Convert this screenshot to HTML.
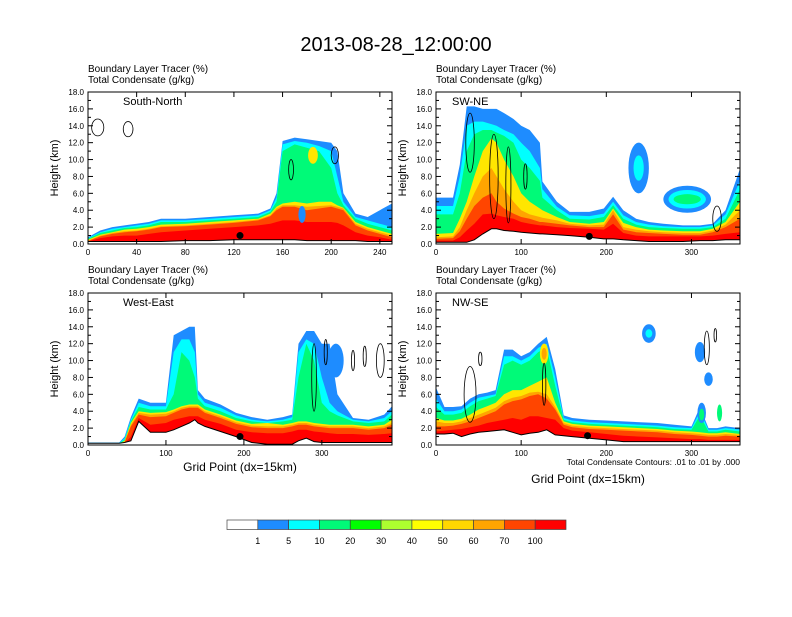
<!DOCTYPE html>
<html><head><meta charset="utf-8"><style>
body{margin:0;background:#fff}
svg text{font-family:"Liberation Sans",sans-serif}
</style></head><body>
<svg id="root" width="792" height="612" xmlns="http://www.w3.org/2000/svg">
<text x="396" y="51" font-size="20" text-anchor="middle">2013-08-28_12:00:00</text>
<g id="panels"></g>
<g id="cbar"></g>
</svg>
<script>
const NS="http://www.w3.org/2000/svg";
const levelColors=["#1E8CFF","#00FFFF","#00FA78","#FFE600","#FFA500","#FF4500","#FF0000"];
const cbColors=["#ffffff","#1E8CFF","#00FFFF","#00FA78","#00FF00","#ADFF2F","#FFFF00","#FFD700","#FFA500","#FF4500","#FF0000"];
const cbLabels=["1","5","10","20","30","40","50","60","70","100"];

const tlXs=[0,10,20,30,40,50,60,80,100,120,140,150,155,160,170,180,190,200,205,210,220,230,240,250];
const tlLevels=[
[0.8,1.6,2.0,2.2,2.4,2.6,3.0,3.0,3.2,3.4,3.6,4.2,6,12.2,12.6,12.4,12.2,12.0,11,6,3.6,3.2,4.0,4.8],
[0.7,1.4,1.8,2.0,2.2,2.4,2.8,2.8,3.0,3.2,3.4,4.0,5.5,11.8,12.2,12.0,11.6,11.0,8,5,3.2,2.8,2.4,2.0],
[0.6,1.3,1.6,1.9,2.0,2.2,2.6,2.6,2.8,3.0,3.2,3.8,5.0,11.0,11.8,11.4,11.0,9.0,6,4.6,3.0,2.4,2.0,1.6],
[0.5,1.1,1.4,1.7,1.8,2.0,2.3,2.4,2.6,2.8,3.0,3.6,4.4,4.8,5.0,4.8,5.0,5.0,4.6,4.3,2.6,2.0,1.6,1.2],
[0.4,1.0,1.3,1.5,1.6,1.8,2.1,2.2,2.4,2.6,2.9,3.4,4.2,4.6,4.6,4.4,4.5,4.6,4.4,4.2,2.4,1.8,1.4,1.0],
[0.35,0.9,1.2,1.4,1.5,1.7,2.0,2.1,2.3,2.5,2.8,3.3,4.0,4.4,4.4,4.0,4.2,4.4,4.2,4.0,2.2,1.6,1.2,0.8],
[0.3,0.7,0.9,1.0,1.0,1.2,1.4,1.6,1.8,2.0,2.2,2.4,2.6,2.8,2.8,2.6,2.6,2.6,2.5,2.2,1.4,1.0,0.8,0.5]];
const tlTerrain=[0.3,0.3,0.3,0.3,0.3,0.3,0.3,0.4,0.4,0.5,0.5,0.5,0.5,0.5,0.5,0.4,0.4,0.4,0.4,0.4,0.4,0.3,0.3,0.3];
const tlBlobs=[[185,10.5,4,1.0,3],[176,3.5,3,1.0,0]];
const tlContours=[[8,13.8,5,1.0],[33,13.6,4,0.9],[167,8.8,2,1.2],[203,10.5,3,1.0]];

const trXs=[0,20,28,36,45,55,65,71,80,91,100,110,122,125,142,157,180,197,208,220,235,250,267,290,310,325,340,357];
const trLevels=[
[5.5,5.5,9.4,16.3,16.3,16,16,16,15.5,14.8,14,13.5,12,7.4,5,3.8,3.8,4.2,5.6,4,3,2.6,2.4,2.2,2.2,2.4,4,8.9],
[4.5,4.5,8,14,14.5,14.5,14.2,14,13.5,13,12,11,9,6.5,4.4,3.4,3.3,3.6,5.0,3.4,2.6,2.3,2.1,2.0,2.0,2.2,3.5,7.5],
[3.5,3.5,6,11,13,13.5,13.5,13.2,12.8,12,10,9,7.5,5.5,4.0,3.0,2.9,3.2,4.6,3.0,2.3,2.0,1.9,1.8,1.8,2.0,3.0,6.5],
[1.2,1.3,3,5,8,11,12.5,12,10,8,6,5,4.2,4.0,3.2,2.6,2.4,2.6,4.2,2.5,2.0,1.7,1.6,1.5,1.5,1.8,2.6,5.0],
[0.8,0.9,2,4,6,8,9,8,6.5,5,4,3.5,3.2,3.1,2.8,2.4,2.2,2.3,4.0,2.0,1.7,1.5,1.4,1.3,1.3,1.6,2.3,4.0],
[0.6,0.7,1.5,3,4.5,5.5,6,5,4.2,3.6,3.2,3.0,2.6,2.6,2.4,2.2,2.0,2.0,3.5,1.7,1.4,1.3,1.2,1.1,1.1,1.4,2.0,3.0],
[0.4,0.4,0.8,1.6,2.4,3.5,3.6,3.4,3.2,3.0,2.6,2.4,2.2,2.2,2.0,1.9,1.8,1.7,2.4,1.3,1.0,0.9,0.9,0.9,0.9,1.0,1.2,1.4]];
const trTerrain=[0.2,0.2,0.2,0.2,0.5,1.2,1.8,1.8,1.6,1.5,1.4,1.3,1.2,1.2,1.1,1.0,0.8,0.6,0.6,0.5,0.4,0.3,0.3,0.3,0.4,0.4,0.5,0.5];
const trBlobs=[[238,9,12,3,0],[238,9,6,1.5,1],[295,5.3,28,1.6,0],[295,5.3,22,1.1,1],[295,5.3,16,0.6,2]];
const trContours=[[40,12,5,3.5],[68,8,5,5],[85,7,3,4.5],[330,3,5,1.5],[105,8,2,1.5]];

const blXs=[0,40,47,55,65,80,100,110,120,130,137,141,150,170,190,210,230,250,262,270,280,290,300,310,320,340,360,380,390];
const blLevels=[
[0.3,0.3,1.0,3.3,5.5,5.0,5.0,13,13.5,14,14,6.5,5.5,4.8,3.8,3.3,3.0,3.3,3.6,12,13.5,13.5,12,12,6,3.2,3.0,3.6,4.6],
[0.25,0.25,0.8,3.0,5.0,4.6,4.6,11,12.5,12.5,11,6,5.0,4.4,3.5,3.0,2.8,3.0,3.3,11,12.5,12,8,5,4,3.0,2.8,3.2,4.0],
[0.2,0.2,0.6,2.8,4.5,4.2,4.2,6,11,10,8,5.5,4.6,4.0,3.2,2.8,2.6,2.8,3.0,8,12,10,5,4,3.5,2.8,2.6,2.8,3.6],
[0.15,0.15,0.5,2.6,4.0,3.8,3.9,4.2,4.6,4.8,4.8,4.8,4.2,3.6,2.9,2.5,2.6,2.4,2.6,2.8,2.8,2.6,2.5,2.4,2.4,2.4,2.2,2.4,3.0],
[0.1,0.1,0.4,2.4,3.8,3.6,3.7,4.0,4.4,4.6,4.6,4.6,4.0,3.4,2.7,2.3,2.2,2.2,2.4,2.6,2.6,2.4,2.3,2.2,2.2,2.2,2.0,2.2,2.6],
[0.1,0.1,0.3,2.2,3.6,3.3,3.4,3.8,4.2,4.4,4.4,4.4,3.8,3.2,2.5,2.1,2.0,2.0,2.2,2.4,2.4,2.2,2.1,2.0,2.0,2.0,1.8,2.0,2.4],
[0.05,0.05,0.2,1.0,3.2,2.4,2.6,3.0,3.2,3.4,3.4,3.4,3.0,2.5,1.8,1.5,1.4,1.4,1.6,1.8,1.8,1.6,1.5,1.4,1.3,1.3,1.2,1.3,1.4]];
const blTerrain=[0.2,0.2,0.3,0.5,2.8,1.5,1.5,1.8,2.2,2.6,3.0,2.6,2.2,1.6,1.0,0.3,0.1,0.1,0.1,0.5,0.8,0.4,0.3,0.3,0.3,0.3,0.3,0.3,0.3];
const blBlobs=[[318,10,10,2,0]];
const blContours=[[290,8,3,4],[305,11,2,1.5],[340,10,2,1.2],[355,10.5,2,1.2],[375,10,5,2]];

const brXs=[0,10,20,30,40,50,60,70,80,90,100,110,120,130,140,150,160,180,200,220,240,260,280,300,310,320,330,340,357];
const brLevels=[
[6.8,4.5,4.5,4.6,5.5,6,6.2,6.5,11.3,11.3,10.5,11,12,12.8,9,3.5,3.2,3,2.9,2.8,2.7,2.6,2.4,2.2,4.5,2.0,2.0,2.2,2.0],
[5.5,4.0,4.0,4.2,5.0,5.6,5.8,6.0,10.5,10.5,10,10.5,11.5,12,8,3.2,2.9,2.7,2.6,2.5,2.4,2.3,2.1,2.0,4.0,1.8,1.8,2.0,1.8],
[4.5,3.6,3.6,3.8,4.6,5.2,5.5,5.8,9.5,10,9.5,10,11,11.5,7,3,2.7,2.5,2.4,2.3,2.2,2.1,1.9,1.8,3.5,1.6,1.6,1.8,1.6],
[3.2,2.9,2.9,3.1,3.6,4.2,4.6,5.0,6,6.5,6.5,7,7.5,8,5,2.8,2.5,2.3,2.2,2.1,2.0,1.9,1.7,1.6,1.5,1.4,1.4,1.5,1.3],
[2.8,2.6,2.6,2.8,3.2,3.6,4,4.4,5.2,5.6,5.8,6.2,6.3,6,4.5,2.6,2.3,2.1,2.0,1.9,1.8,1.7,1.5,1.4,1.3,1.2,1.2,1.3,1.2],
[2.2,2.2,2.3,2.5,2.8,3.2,3.6,4.0,4.8,5.2,5.4,5.8,6,5.5,4.2,2.4,2.1,1.9,1.8,1.7,1.6,1.5,1.3,1.2,1.1,1.0,1.0,1.1,1.0],
[1.6,1.7,1.8,1.9,2.1,2.3,2.6,2.8,3,3.2,3,3.4,3.4,3.2,3,2,1.7,1.5,1.3,1.1,1.0,0.9,0.8,0.7,0.7,0.6,0.6,0.6,0.6]];
const brTerrain=[1.3,1.3,1.4,1.0,1.3,1.5,1.6,1.7,1.8,1.5,1.2,1.4,1.5,1.8,1.2,1.1,1.0,0.8,0.6,0.4,0.4,0.4,0.4,0.4,0.4,0.4,0.4,0.4,0.4];
const brBlobs=[[250,13.2,8,1.1,0],[250,13.2,4,0.5,1],[310,11,6,1.2,0],[320,7.8,5,0.8,0],[312,3.8,5,1.2,0],[312,3.6,3,0.7,2],[333,3.8,3,1.0,2],[127,10.8,5,1.2,3],[127,10.8,3,0.7,4]];
const brContours=[[40,6,7,3.3],[52,10.2,2,0.8],[127,7.2,2,2.5],[318,11.5,3,2],[328,13,1.5,0.8]];

const panels=[
 {id:"south-north",label:"South-North",x0:88,y0:92,xmax:250,xticks:[0,40,80,120,160,200,240],xs:tlXs,lv:tlLevels,ter:tlTerrain,blobs:tlBlobs,cont:tlContours,dot:[125,1.0],xt:false},
 {id:"sw-ne",label:"SW-NE",x0:436,y0:92,xmax:357,xticks:[0,100,200,300],xs:trXs,lv:trLevels,ter:trTerrain,blobs:trBlobs,cont:trContours,dot:[180,0.9],xt:false},
 {id:"west-east",label:"West-East",x0:88,y0:293,xmax:390,xticks:[0,100,200,300],xs:blXs,lv:blLevels,ter:blTerrain,blobs:blBlobs,cont:blContours,dot:[195,1.0],xt:true},
 {id:"nw-se",label:"NW-SE",x0:436,y0:293,xmax:357,xticks:[0,100,200,300],xs:brXs,lv:brLevels,ter:brTerrain,blobs:brBlobs,cont:brContours,dot:[178,1.1],xt:true}
];
const W=304,H=152,YMAX=18;
function mk(tag,attrs,parent){const e=document.createElementNS(NS,tag);for(const k in attrs)e.setAttribute(k,attrs[k]);parent.appendChild(e);return e;}
const root=document.getElementById("panels");
panels.forEach(p=>{
 const sx=v=>p.x0+v/p.xmax*W, sy=v=>p.y0+H-v/YMAX*H;
 const g=mk("g",{},root);
 
 
 const cid="clip-"+p.id;
 const cp=mk("clipPath",{id:cid},g);mk("rect",{x:p.x0,y:p.y0,width:W,height:H},cp);
 const pl=mk("g",{"clip-path":"url(#"+cid+")"},g);
 p.lv.forEach((arr,i)=>{
  let d="M"+sx(p.xs[0])+","+sy(0);
  arr.forEach((v,j)=>{d+=" L"+sx(p.xs[j]).toFixed(1)+","+sy(v).toFixed(1);});
  d+=" L"+sx(p.xs[p.xs.length-1])+","+sy(0)+" Z";
  const a=mk("path",{d:d,fill:levelColors[i]},pl);
  
  
 });
 p.blobs.forEach(b=>{
  const e=mk("ellipse",{cx:sx(b[0]),cy:sy(b[1]),rx:b[2]/p.xmax*W,ry:b[3]/YMAX*H,fill:levelColors[b[4]]},pl);
  
  
 });
 p.cont.forEach(c=>{
  const e=mk("ellipse",{cx:sx(c[0]),cy:sy(c[1]),rx:c[2]/p.xmax*W,ry:c[3]/YMAX*H,fill:"none",stroke:"#000","stroke-width":0.8},pl);
  
  
 });
 let td="M"+sx(p.xs[0])+","+sy(0);let tl="";
 p.ter.forEach((v,j)=>{td+=" L"+sx(p.xs[j]).toFixed(1)+","+sy(v).toFixed(1);tl+=(j?" L":"M")+sx(p.xs[j]).toFixed(1)+","+sy(v).toFixed(1);});
 td+=" L"+sx(p.xs[p.xs.length-1])+","+sy(0)+" Z";
 const tf=mk("path",{d:td,fill:"#fff"},pl);
 
 
 mk("path",{d:tl,fill:"none",stroke:"#000","stroke-width":1},pl);
 const dot=mk("circle",{cx:sx(p.dot[0]),cy:sy(p.dot[1]),r:3.5,fill:"#000"},pl);
 
 
 const fr=mk("rect",{x:p.x0,y:p.y0,width:W,height:H,fill:"none",stroke:"#000","stroke-width":1},g);
 
 
 for(let v=0;v<=18;v+=2){
  const y=sy(v);
  mk("line",{x1:p.x0,x2:p.x0+5,y1:y,y2:y,stroke:"#000"},g);
  mk("line",{x1:p.x0+W,x2:p.x0+W-5,y1:y,y2:y,stroke:"#000"},g);
  if(v<18){mk("line",{x1:p.x0,x2:p.x0+3,y1:sy(v+1),y2:sy(v+1),stroke:"#000"},g);mk("line",{x1:p.x0+W,x2:p.x0+W-3,y1:sy(v+1),y2:sy(v+1),stroke:"#000"},g);}
  const t=mk("text",{x:p.x0-4,y:y+3,"font-size":8,"text-anchor":"end"},g);t.textContent=v.toFixed(1);
  
  
 }
 p.xticks.forEach(v=>{
  const x=sx(v);
  mk("line",{x1:x,x2:x,y1:p.y0+H,y2:p.y0+H-5,stroke:"#000"},g);
  mk("line",{x1:x,x2:x,y1:p.y0,y2:p.y0+5,stroke:"#000"},g);
  const t=mk("text",{x:x,y:p.y0+H+11,"font-size":8,"text-anchor":"middle"},g);t.textContent=v;
  
  
 });
 const h1=mk("text",{x:p.x0,y:p.y0-20,"font-size":10},g);h1.textContent="Boundary Layer Tracer   (%)";
 
 
 const h2=mk("text",{x:p.x0,y:p.y0-9,"font-size":10},g);h2.textContent="Total Condensate   (g/kg)";
 
 
 const lb=mk("text",{x:p.x0+(p.label.length>6?35:16),y:p.y0+13,"font-size":11},g);lb.textContent=p.label;
 
 
 const yt=mk("text",{x:0,y:0,"font-size":11,"text-anchor":"middle",transform:"translate("+(p.x0-30)+","+(p.y0+H/2)+") rotate(-90)"},g);yt.textContent="Height (km)";
 
 
 if(p.xt){
  const xt=mk("text",{x:p.x0+W/2,y:p.y0+H+(p.id==="nw-se"?38:26),"font-size":12,"text-anchor":"middle"},g);xt.textContent="Grid Point (dx=15km)";
  
  
 }
});
const note=mk("text",{x:740,y:465,"font-size":8.5,"text-anchor":"end"},root);note.textContent="Total Condensate Contours: .01 to .01 by .000";


const cb=document.getElementById("cbar");
const bw=(566-227)/cbColors.length;
cbColors.forEach((c,i)=>{
 const r=mk("rect",{x:227+i*bw,y:520,width:bw,height:9.5,fill:c,stroke:"#444","stroke-width":0.7},cb);
 
 
});
cbLabels.forEach((l,i)=>{
 const t=mk("text",{x:227+(i+1)*bw,y:544,"font-size":9,"text-anchor":"middle"},cb);t.textContent=l;
 
 
});
</script>
</body></html>
